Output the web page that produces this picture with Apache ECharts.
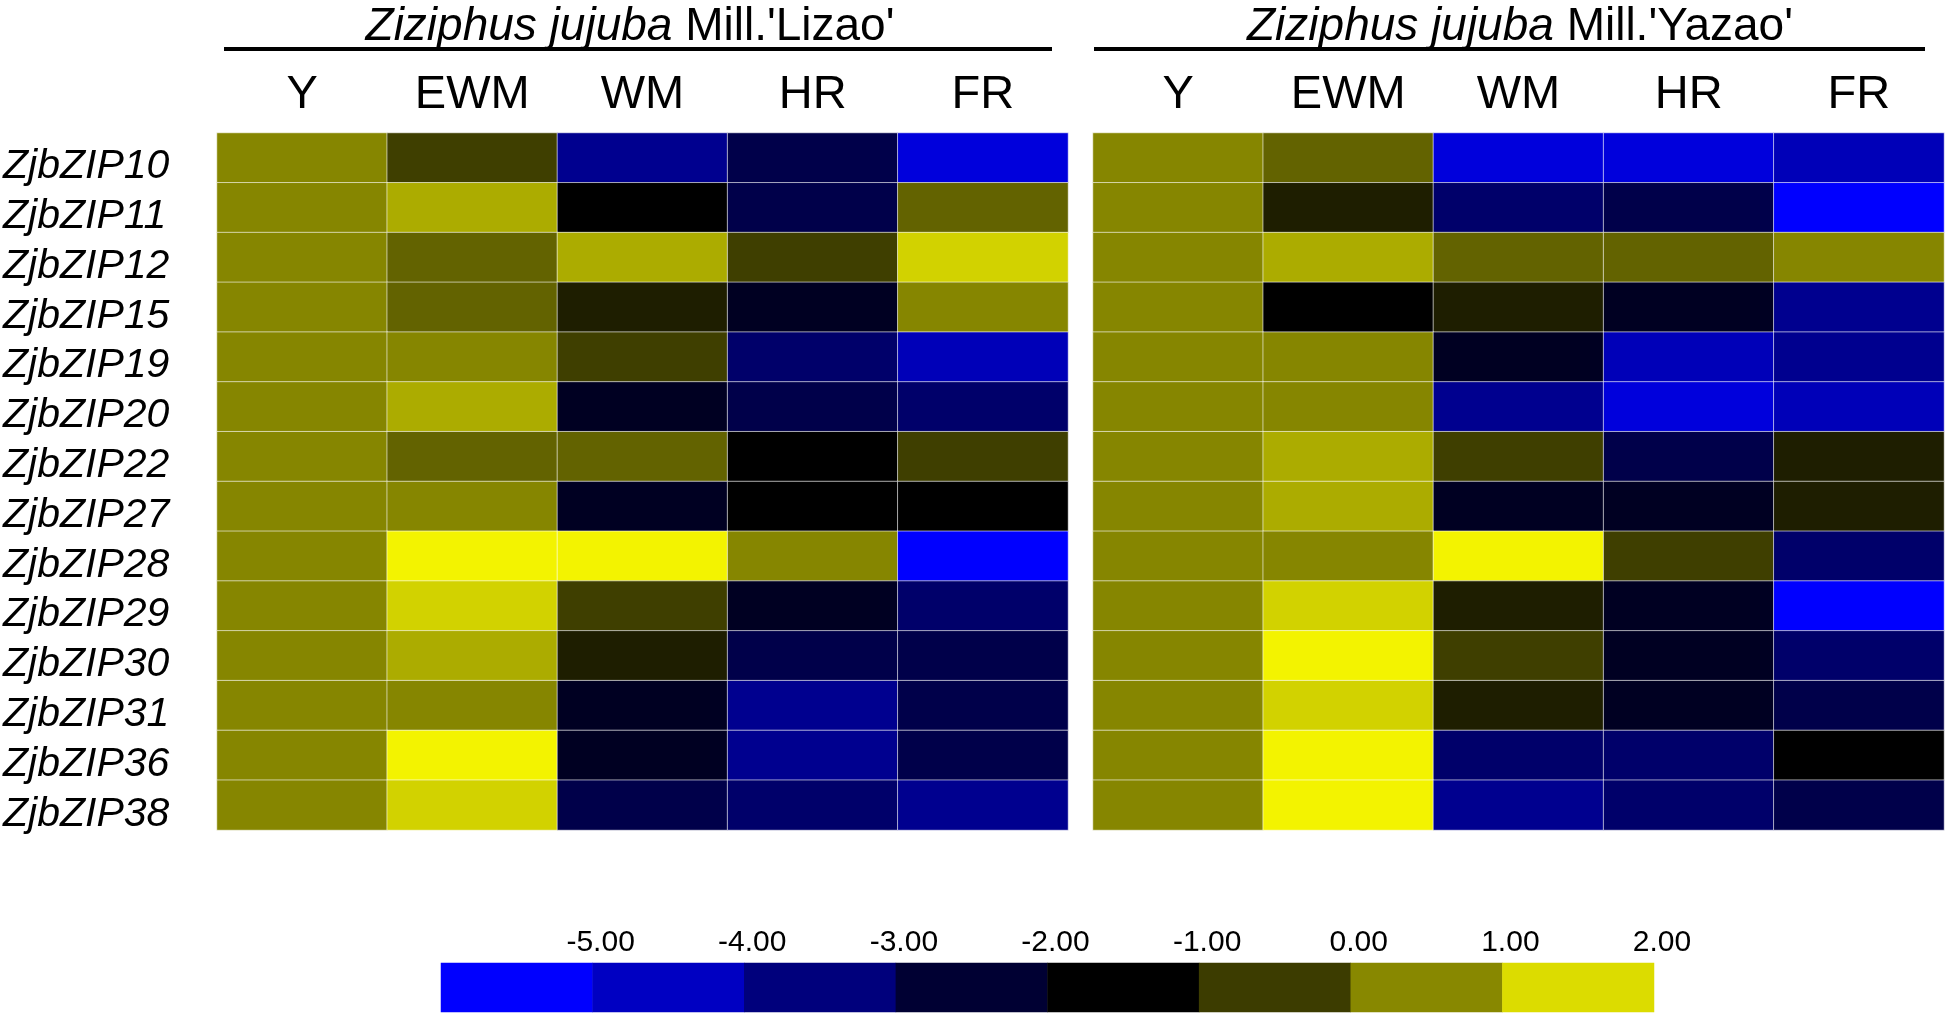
<!DOCTYPE html>
<html>
<head>
<meta charset="utf-8">
<script src="https://cdn.jsdelivr.net/npm/echarts@6/dist/echarts.min.js"></script>
<style>
  html, body { margin: 0; padding: 0; background: #fff; }
  #chart { width: 1946px; height: 1017px; }
</style>
</head>
<body>
<div id="chart"></div>
<script>
  // stages and genes
  var stages = ['Y', 'EWM', 'WM', 'HR', 'FR'];
  var genes = ['ZjbZIP10', 'ZjbZIP11', 'ZjbZIP12', 'ZjbZIP15', 'ZjbZIP19', 'ZjbZIP20', 'ZjbZIP22',
               'ZjbZIP27', 'ZjbZIP28', 'ZjbZIP29', 'ZjbZIP30', 'ZjbZIP31', 'ZjbZIP36', 'ZjbZIP38'];

  // expression values, one row per gene (Y, EWM, WM, HR, FR)
  var lizao = [
    [0, -1.0, -4.0, -3.0, -5.0],
    [0,  0.5, -2.0, -3.0, -0.5],
    [0, -0.5,  0.5, -1.0,  1.0],
    [0, -0.5, -1.5, -2.5,  0],
    [0,  0,   -1.0, -3.5, -4.5],
    [0,  0.5, -2.5, -3.0, -3.5],
    [0, -0.5, -0.5, -2.0, -1.0],
    [0,  0,   -2.5, -2.0, -2.0],
    [0,  1.5,  1.5,  0,   -5.5],
    [0,  1.0, -1.0, -2.5, -3.5],
    [0,  0.5, -1.5, -3.0, -3.0],
    [0,  0,   -2.5, -4.0, -3.0],
    [0,  1.5, -2.5, -4.0, -3.0],
    [0,  1.0, -3.0, -3.5, -4.0]
  ];
  var yazao = [
    [0, -0.5, -5.0, -5.0, -4.5],
    [0, -1.5, -3.5, -3.0, -5.5],
    [0,  0.5, -0.5, -0.5,  0],
    [0, -2.0, -1.5, -2.5, -4.0],
    [0,  0,   -2.5, -4.5, -4.0],
    [0,  0,   -4.0, -5.0, -4.5],
    [0,  0.5, -1.0, -3.0, -1.5],
    [0,  0.5, -2.5, -2.5, -1.5],
    [0,  0,    1.5, -1.0, -3.5],
    [0,  1.0, -1.5, -2.5, -5.5],
    [0,  1.5, -1.0, -2.5, -3.5],
    [0,  1.0, -1.5, -2.5, -3.0],
    [0,  1.5, -3.5, -3.5, -2.0],
    [0,  1.5, -4.0, -3.5, -3.0]
  ];

  // colour key
  var legendTicks = ['', '-5.00', '-4.00', '-3.00', '-2.00', '-1.00', '0.00', '1.00', '2.00'];
  var legendBins = [-6, -5, -4, -3, -2, -1, 0, 1];

  var levelColors = ['#0000ff', '#0000dc', '#0000b8', '#00008f', '#00006a', '#00004a', '#000022', '#000000',
                     '#1e1e00', '#3f3f00', '#636300', '#868600', '#acac00', '#d2d200', '#f3f300'];
  var legendColors = ['#0000ff', '#0000c2', '#00007c', '#000033', '#000000', '#3c3c00', '#888800', '#dcdc00'];

  var FONT = '"Liberation Sans", Arial, sans-serif';

  function toCells(rows) {
    var out = [];
    rows.forEach(function (row, gi) {
      row.forEach(function (v, si) { out.push([si, gi, v]); });
    });
    return out;
  }

  var myChart = echarts.init(document.getElementById('chart'));

  var stageAxis = function (gi) {
    return {
      type: 'category', gridIndex: gi, data: stages, position: 'top',
      axisLine: { show: false }, axisTick: { show: false }, splitLine: { show: false },
      axisLabel: { color: '#000', fontSize: 47, fontFamily: FONT, margin: 14 }
    };
  };
  var geneAxis = function (gi, showLabel) {
    return {
      type: 'category', gridIndex: gi, data: genes, inverse: true,
      axisLine: { show: false }, axisTick: { show: false }, splitLine: { show: false },
      axisLabel: {
        show: showLabel, interval: 0, align: 'left', margin: 214,
        formatter: function (v) { return '{g|' + v + '}'; },
        rich: { g: { color: '#000', fontSize: 41, fontStyle: 'italic', fontFamily: FONT, padding: [18, 0, 0, 0] } }
      }
    };
  };
  var cellStyle = { borderColor: 'rgba(255,255,255,0.6)', borderWidth: 1 };

  var titleText = function (x, name) {
    return {
      type: 'text', silent: true,
      style: {
        x: x, y: 27, text: '{i|Ziziphus jujuba} Mill.\'' + name + '\'',
        align: 'center', verticalAlign: 'middle', textAlign: 'center', textVerticalAlign: 'middle',
        fill: '#000', fontSize: 46, fontFamily: FONT,
        rich: { i: { fontStyle: 'italic', fontSize: 46, fontFamily: FONT, fill: '#000' } }
      }
    };
  };

  myChart.setOption({
    animation: false,
    backgroundColor: '#fff',
    grid: [
      { left: 216, top: 133, width: 852, height: 697 },
      { left: 1093, top: 133, width: 851, height: 697 },
      { left: 441, top: 963, width: 1213, height: 49 }
    ],
    xAxis: [
      stageAxis(0),
      stageAxis(1),
      { type: 'category', gridIndex: 2, data: legendBins, show: false },
      {
        type: 'category', gridIndex: 2, data: legendTicks, position: 'top', boundaryGap: false,
        axisLine: { show: false }, axisTick: { show: false }, splitLine: { show: false },
        axisLabel: { color: '#000', fontSize: 30, fontFamily: FONT, margin: 5, interval: 0, padding: [0, 0, 0, 16] }
      }
    ],
    yAxis: [
      geneAxis(0, true),
      geneAxis(1, false),
      { type: 'category', gridIndex: 2, data: [''], show: false }
    ],
    visualMap: [
      { type: 'continuous', show: false, seriesIndex: [0, 1], min: -5.5, max: 1.5, inRange: { color: levelColors } },
      { type: 'continuous', show: false, seriesIndex: 2, min: -6, max: 1, inRange: { color: legendColors } }
    ],
    series: [
      { type: 'heatmap', xAxisIndex: 0, yAxisIndex: 0, data: toCells(lizao), itemStyle: cellStyle, emphasis: { disabled: true } },
      { type: 'heatmap', xAxisIndex: 1, yAxisIndex: 1, data: toCells(yazao), itemStyle: cellStyle, emphasis: { disabled: true } },
      {
        type: 'heatmap', xAxisIndex: 2, yAxisIndex: 2,
        data: legendBins.map(function (v, i) { return [i, 0, v]; }),
        itemStyle: { borderWidth: 0 }, emphasis: { disabled: true }
      }
    ],
    graphic: [
      titleText(630, 'Lizao'),
      titleText(1520, 'Yazao'),
      { type: 'line', silent: true, shape: { x1: 224, y1: 49, x2: 1052, y2: 49 }, style: { stroke: '#000', lineWidth: 4 } },
      { type: 'line', silent: true, shape: { x1: 1094, y1: 49, x2: 1925, y2: 49 }, style: { stroke: '#000', lineWidth: 4 } }
    ]
  });
</script>
</body>
</html>
